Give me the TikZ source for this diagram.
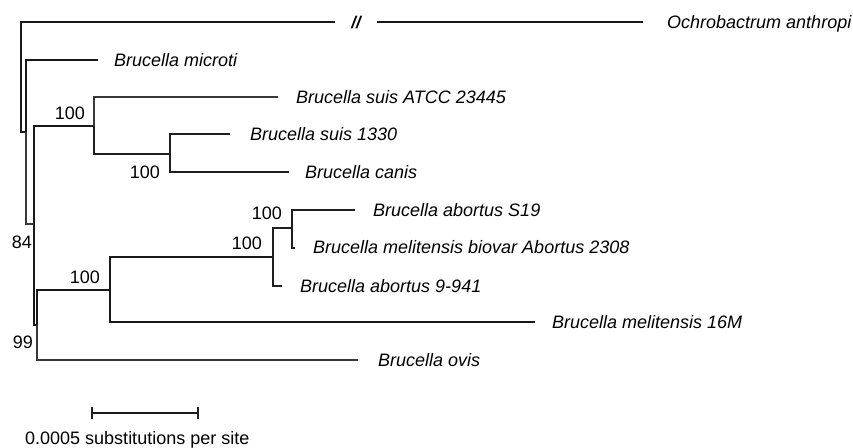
\documentclass[tikz,border=0pt]{standalone}
\usepackage{fontspec}
\setmainfont{Liberation Sans}
\begin{document}
\begin{tikzpicture}[x=1pt,y=-1pt,
  brthick/.style={line width=2.1pt, draw=black!90, line join=miter},
  brmed/.style={line width=1.8pt, draw=black!88, line join=miter},
  brthin/.style={line width=1.5pt, draw=black!78, line join=miter},
  leaf/.style={font=\fontsize{18}{20}\selectfont\itshape, anchor=base west, inner sep=0pt, text=black},
  boot/.style={font=\fontsize{18}{20}\selectfont, anchor=base east, inner sep=0pt, text=black},
  brk/.style={font=\fontsize{17}{19}\selectfont\bfseries\itshape, inner sep=0pt, text=black}]
\useasboundingbox (0,0) rectangle (853,447);
% internal nodes
\coordinate (R) at (21,77);
\coordinate (A) at (26,132);
\coordinate (B) at (34,224);
\coordinate (C) at (94,126);
\coordinate (D) at (37,325);
\coordinate (E) at (170,154);
\coordinate (F) at (110,290);
\coordinate (G) at (273,257);
\coordinate (H) at (292,228);
% tips
\coordinate (brk1) at (335,22);
\coordinate (brk2) at (377,22);
\coordinate (ochro) at (643,22);
\coordinate (microti) at (98,60);
\coordinate (suisA) at (278,97);
\coordinate (suis1330) at (230,134);
\coordinate (canis) at (289,172);
\coordinate (s19) at (355,210);
\coordinate (biovar) at (295,248);
\coordinate (ab9941) at (282,286);
\coordinate (mel16) at (535,322);
\coordinate (ovis) at (358,360);
% branches
\draw[brthick] (R) |- (brk1);
\draw[brthick] (brk2) -- (ochro);
\draw[brthick] (R) |- (A);
\draw[brthick] (A) |- (microti);
\draw[brthin] (A) |- (B);
\draw[brthick] (B) |- (C);
\draw[brthick] (B) |- (D);
\draw[brthin] (C) |- (suisA);
\draw[brmed] (C) |- (E);
\draw[brmed] (E) |- (suis1330);
\draw[brmed] (E) |- (canis);
\draw[brthin] (D) |- (ovis);
\draw[brthick] (D) |- (F);
\draw[brthick] (F) |- (G);
\draw[brthick] (F) |- (mel16);
\draw[brmed] (G) |- (H);
\draw[brmed] (G) |- (ab9941);
\draw[brmed] (H) |- (s19);
\draw[brmed] (H) |- (biovar);
% break mark
\node[brk] (brkmark) at (356,23) {//};
% leaf labels
\node[leaf] (tochro) at ([shift={(24,6.5)}]ochro) {Ochrobactrum anthropi};
\node[leaf] (tmicroti) at ([shift={(16,6.5)}]microti) {Brucella microti};
\node[leaf] (tsuisA) at ([shift={(18,6.5)}]suisA) {Brucella suis ATCC 23445};
\node[leaf] (tsuis1330) at ([shift={(20,6.5)}]suis1330) {Brucella suis 1330};
\node[leaf] (tcanis) at ([shift={(16,6.5)}]canis) {Brucella canis};
\node[leaf] (ts19) at ([shift={(18,6.5)}]s19) {Brucella abortus S19};
\node[leaf] (tbiovar) at ([shift={(18,5.5)}]biovar) {Brucella melitensis biovar Abortus 2308};
\node[leaf] (tab9941) at ([shift={(18,6.5)}]ab9941) {Brucella abortus 9-941};
\node[leaf] (tmel16) at ([shift={(17,6.5)}]mel16) {Brucella melitensis 16M};
\node[leaf] (tovis) at ([shift={(20,6.5)}]ovis) {Brucella ovis};
% bootstrap values
\node[boot] (bC) at ([shift={(-9,-6.5)}]C) {100};
\node[boot] (bE) at ([shift={(-10,24.5)}]E) {100};
\node[boot] (bB) at ([shift={(-2,24.5)}]B) {84};
\node[boot] (bH) at ([shift={(-10,-8.5)}]H) {100};
\node[boot] (bG) at ([shift={(-11,-7.5)}]G) {100};
\node[boot] (bF) at ([shift={(-10,-6.5)}]F) {100};
\node[boot] (bD) at ([shift={(-4,23.5)}]D) {99};
% scale bar
\coordinate (sb1) at (92,413);
\coordinate (sb2) at (198,413);
\draw[brthick] (sb1) -- (sb2);
\draw[brmed] ([yshift=6pt]sb1) -- ([yshift=-6pt]sb1);
\draw[brmed] ([yshift=6pt]sb2) -- ([yshift=-6pt]sb2);
\node[font=\fontsize{18}{20}\selectfont, anchor=base west, inner sep=0pt, text=black] (tscale) at (25,444) {0.0005 substitutions per site};
\end{tikzpicture}
\end{document}
